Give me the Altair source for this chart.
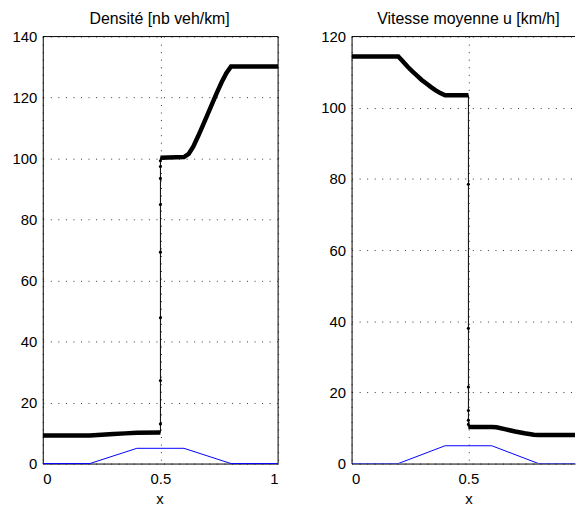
import altair as alt
import pandas as pd

# ---------------- data ----------------
# Density panel: smooth left part, jump dots at x = 0.5, smooth right part
rho_left_x = [0.0, 0.2, 0.25, 0.3, 0.35, 0.4, 0.5]
rho_left_y = [9.2, 9.2, 9.45, 9.7, 9.9, 10.1, 10.2]
rho_jump_y = [13.0, 27.2, 47.8, 69.3, 84.9, 93.5, 97.4, 99.3]
rho_right_x = [0.5, 0.6, 0.62, 0.64, 0.66, 0.68, 0.70, 0.72, 0.74, 0.76, 0.78, 0.80, 1.0]
rho_right_y = [100.3, 100.5, 101.5, 104.0, 107.3, 110.8, 114.4, 118.0, 121.6, 125.0, 128.0, 130.2, 130.2]

# Velocity panel
u_left_x = [0.0, 0.2, 0.22, 0.24, 0.26, 0.28, 0.30, 0.32, 0.34, 0.36, 0.38, 0.40, 0.5]
u_left_y = [114.4, 114.4, 113.0, 111.5, 110.2, 109.0, 107.8, 106.8, 105.8, 104.9, 104.1, 103.5, 103.5]
u_jump_y = [78.5, 38.0, 21.5, 14.9, 12.2, 11.0]
u_right_x = [0.5, 0.6, 0.62, 0.66, 0.70, 0.74, 0.78, 0.80, 1.0]
u_right_y = [10.3, 10.3, 10.2, 9.6, 9.0, 8.5, 8.1, 8.0, 8.0]

# Bottom topography (blue)
bump_x = [0.0, 0.2, 0.4, 0.6, 0.8, 1.0]
bump_y = [0, 0, 5, 5, 0, 0]

FONT = "Liberation Sans"
H = 430
UNIT = 235.3  # pixels per unit of x in the reference


def build_frames(lx, ly, jy, rx, ry):
    rows = []
    i = 0
    for x, y in zip(lx, ly):
        rows.append({"x": x, "y": y, "seg": "A", "kind": "smooth", "i": i}); i += 1
    for y in jy:
        rows.append({"x": 0.5, "y": y, "seg": "J", "kind": "jump", "i": i}); i += 1
    for x, y in zip(rx, ry):
        rows.append({"x": x, "y": y, "seg": "B", "kind": "smooth", "i": i}); i += 1
    return pd.DataFrame(rows)


def panel(df, ymax, yvals, title, width, xmax, xvals, full):
    center = 0.5 * UNIT  # title / axis title centred on the full (uncut) panel
    xs = alt.X("x:Q", scale=alt.Scale(domain=[0, xmax], nice=False, zero=False),
               axis=alt.Axis(values=xvals, title="x",
                             labelBaseline="alphabetic", labelPadding=20.5,
                             titleBaseline="alphabetic", titleY=40, titleX=center,
                             labelExpr="datum.value == 0.5 ? '0.5' : format(datum.value, 'd')"))
    ys = alt.Y("y:Q", scale=alt.Scale(domain=[0, ymax], nice=False),
               axis=alt.Axis(values=yvals, title=None, labelPadding=6))
    base = alt.Chart(df)
    one = pd.DataFrame({"a": [0]})
    layers = [alt.Chart(one).mark_rule(color="black", strokeWidth=1).encode(
        x=alt.value(0), x2=alt.value(width), y=alt.value(0))]
    if full:
        layers.append(alt.Chart(one).mark_rule(color="black", strokeWidth=1).encode(
            x=alt.value(width), y=alt.value(0), y2=alt.value(H)))
    bump = alt.Chart(pd.DataFrame({"x": bump_x, "y": bump_y})).mark_line(
        color="#0000ff", strokeWidth=1, clip=not full).encode(x=xs, y=ys)
    thin = base.mark_line(color="black", strokeWidth=1, clip=True).encode(
        x=xs, y=ys, order=alt.Order("i:Q"))
    thick = base.transform_filter("datum.kind == 'smooth'").mark_line(
        color="black", strokeWidth=4.5, clip=True).encode(
        x=xs, y=ys, detail="seg:N", order=alt.Order("i:Q"))
    dots = base.transform_filter("datum.kind == 'jump'").mark_point(
        filled=True, color="black", size=10, opacity=1).encode(x=xs, y=ys)
    layers += [bump, thin, thick, dots]
    return alt.layer(*layers).properties(
        width=width, height=H,
        title=alt.TitleParams(title, fontSize=16, font=FONT, fontWeight="normal",
                              color="black", offset=3, dx=center - width / 2))


rho_df = build_frames(rho_left_x, rho_left_y, rho_jump_y, rho_right_x, rho_right_y)
u_df = build_frames(u_left_x, u_left_y, u_jump_y, u_right_x, u_right_y)

left = panel(rho_df, 140, [0, 20, 40, 60, 80, 100, 120, 140], "Densité [nb veh/km]",
             237, 1.0, [0, 0.5, 1], True)
# right panel is cut by the window edge in the reference
right = panel(u_df, 120, [0, 20, 40, 60, 80, 100, 120], "Vitesse moyenne u [km/h]",
              225, 225 / UNIT, [0, 0.5], False)

chart = alt.hconcat(left, right, spacing=39).properties(
    padding={"left": 3, "top": 0, "right": 0, "bottom": 0},
    background="white"
).configure_view(
    stroke="transparent"
).configure_axis(
    labelFont=FONT, labelFontSize=15, labelColor="black",
    titleFont=FONT, titleFontSize=15, titleFontWeight="normal", titleColor="black",
    domain=True, domainColor="black", domainWidth=1,
    ticks=False,
    grid=True, gridColor="#333333", gridDash=[1, 6.6], gridWidth=1,
    minExtent=30, maxExtent=30
)

chart.save("out.html", embed_options={"renderer": "svg", "actions": False})
